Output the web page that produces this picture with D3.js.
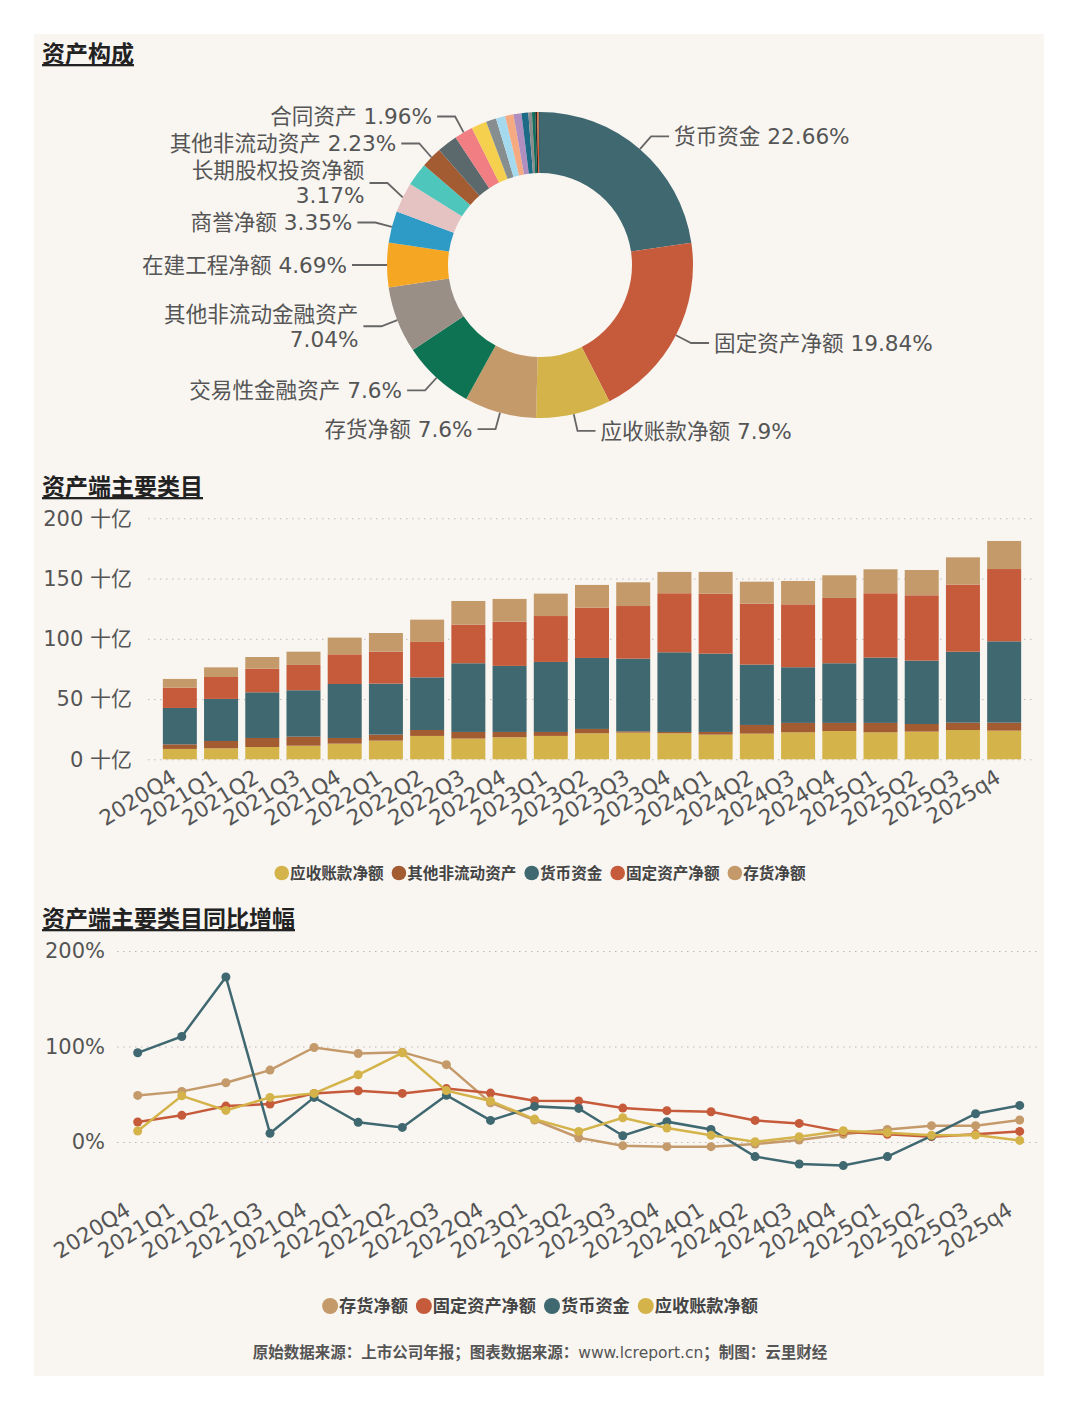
<!DOCTYPE html>
<html>
<head>
<meta charset="utf-8">
<script src="https://cdn.jsdelivr.net/npm/d3@7"></script>
<style>
  body { margin: 0; background: #fff; }
</style>
</head>
<body>
<script>
// ---- data ----
var pieNames = ["货币资金", "固定资产净额", "应收账款净额", "存货净额", "交易性金融资产", "其他非流动金融资产",
  "在建工程净额", "商誉净额", "长期股权投资净额", "无形资产", "其他非流动资产", "其他流动资产", "合同资产",
  "使用权资产", "预付款项", "递延所得税资产", "应收款项融资", "其他应收款", "长期待摊费用", "应收票据",
  "投资性房地产", "开发支出", "其他权益工具投资", "衍生金融资产"];
var pieValues = [22.66, 19.84, 7.9, 7.6, 7.6, 7.04, 4.69, 3.35, 3.17, 2.45, 2.23, 2.15, 1.96,
  1.62, 1.08, 0.98, 0.88, 0.84, 0.72, 0.38, 0.34, 0.2, 0.16, 0.14];
var pieColors = ["#3F6871", "#C65B3B", "#D4B44A", "#C49A6A", "#0E7352", "#9A8F86", "#F5A623", "#2E9AC6",
  "#E6C3C3", "#4FC6BB", "#A35B32", "#5B686C", "#F07E82", "#F4D04E", "#868E8F", "#A5DAEE", "#F5AA82",
  "#B18EC0", "#1E6B88", "#8C8C8C", "#0F6E5C", "#2A2A2A", "#E0602F", "#3A5E66"];
var pieLabeled = ["货币资金", "固定资产净额", "应收账款净额", "存货净额", "交易性金融资产", "其他非流动金融资产",
  "在建工程净额", "商誉净额", "长期股权投资净额", "其他非流动资产", "合同资产"];

var quarters = ["2020Q4", "2021Q1", "2021Q2", "2021Q3", "2021Q4", "2022Q1", "2022Q2", "2022Q3", "2022Q4",
  "2023Q1", "2023Q2", "2023Q3", "2023Q4", "2024Q1", "2024Q2", "2024Q3", "2024Q4", "2025Q1", "2025Q2",
  "2025Q3", "2025q4"];

// 十亿
var barSeries = ["应收账款净额", "其他非流动资产", "货币资金", "固定资产净额", "存货净额"];
var barColors = ["#D4B44A", "#A35B32", "#3F6870", "#C65B3B", "#C49A6A"];
var receivable = [8.6, 9.1, 10.2, 11.3, 13.0, 15.5, 19.4, 17.2, 18.3, 19.4, 21.6, 22.1, 21.6, 20.5, 21.3, 22.4, 23.5, 22.4, 23.0, 24.3, 23.8];
var otherNonCurrent = [3.8, 6.1, 7.5, 7.5, 4.7, 5.0, 4.9, 5.5, 4.4, 3.3, 3.6, 1.1, 1.1, 2.2, 7.2, 7.8, 6.7, 7.8, 6.3, 6.1, 6.6];
var cash = [30.2, 34.9, 37.9, 38.5, 44.8, 42.3, 43.7, 57.0, 54.8, 58.1, 58.9, 60.3, 66.1, 65.0, 50.1, 46.2, 49.5, 54.2, 52.6, 58.9, 67.5];
var fixedAssets = [16.9, 18.2, 19.6, 21.0, 24.6, 26.5, 29.4, 32.1, 36.7, 38.1, 41.8, 43.7, 49.0, 49.8, 50.6, 52.2, 54.2, 53.4, 54.2, 55.7, 60.0];
var inventory = [7.2, 8.0, 9.7, 11.0, 13.9, 15.5, 18.5, 19.6, 18.9, 18.6, 18.8, 19.7, 17.7, 18.0, 18.2, 19.4, 18.8, 19.9, 21.0, 22.6, 23.3];
var barTicks = [0, 50, 100, 150, 200];

// 同比 %
var lineSeries = ["存货净额", "固定资产净额", "货币资金", "应收账款净额"];
var lineColors = ["#C49A6A", "#C65B3B", "#3F6870", "#D4B44A"];
var inventoryYoY = [48.8, 53.0, 62.0, 75.3, 99.0, 92.7, 94.1, 81.0, 41.1, 23.0, 4.5, -3.8, -4.9, -4.9, -2.1, 2.1, 8.0, 13.2, 17.1, 17.1, 23.0];
var fixedYoY = [20.9, 27.9, 37.6, 39.7, 50.9, 53.7, 50.9, 55.9, 51.2, 43.2, 42.9, 35.5, 32.8, 31.7, 22.6, 19.5, 10.8, 8.0, 5.6, 8.0, 11.1];
var cashYoY = [93.4, 110.5, 172.8, 9.1, 46.7, 20.6, 15.3, 49.0, 22.6, 37.3, 35.2, 6.6, 21.3, 13.2, -15.3, -23.0, -24.7, -15.3, 6.3, 29.6, 38.3];
var receivableYoY = [11.5, 48.4, 33.1, 46.7, 50.9, 70.4, 93.4, 53.8, 42.9, 24.0, 11.1, 25.4, 14.6, 7.0, 0.3, 5.6, 11.8, 9.8, 7.0, 7.3, 1.7];
var lineTicks = [0, 100, 200];

var FONT = "'DejaVu Sans', 'Noto Sans CJK SC', sans-serif";
var CJK = "'Noto Sans CJK SC', sans-serif";

var svg = d3.select("body").append("svg")
    .attr("width", 1080)
    .attr("height", 1410);

svg.append("rect")
    .attr("x", 34).attr("y", 34)
    .attr("width", 1010).attr("height", 1342)
    .attr("fill", "#F9F6F2");

function title(txt, y) {
  svg.append("text")
      .attr("x", 42).attr("y", y)
      .style("font-family", CJK)
      .style("font-size", "23px")
      .style("font-weight", "bold")
      .style("text-decoration", "underline")
      .attr("fill", "#222")
      .text(txt);
}
title("资产构成", 62);
title("资产端主要类目", 495);
title("资产端主要类目同比增幅", 927);

function legend(names, colors, cy, fs, r, gap) {
  var g = svg.append("g");
  var x = 0;
  names.forEach(function(n, i) {
    var it = g.append("g").attr("transform", "translate(" + x + ",0)");
    it.append("circle").attr("cx", r).attr("cy", cy).attr("r", r).attr("fill", colors[i]);
    var t = it.append("text")
        .attr("x", 2 * r + 1).attr("y", cy).attr("dy", "0.36em")
        .style("font-family", CJK)
        .style("font-size", fs + "px")
        .style("font-weight", "bold")
        .attr("fill", "#444")
        .text(n);
    x += 2 * r + 1 + t.node().getComputedTextLength() + gap;
  });
  var total = x - gap;
  g.attr("transform", "translate(" + (540 - total / 2) + ",0)");
}

// ---- donut ----
var cx = 540, cy = 265, R = 153, R0 = 92, len1 = 17, len2 = 18;
var pie = d3.pie().sort(null).value(function(d) { return d; });
var arcs = pie(pieValues);
var arc = d3.arc().innerRadius(R0).outerRadius(R);

var donut = svg.append("g").attr("transform", "translate(" + cx + "," + cy + ")");
donut.selectAll("path")
    .data(arcs)
  .enter().append("path")
    .attr("d", arc)
    .attr("fill", function(d, i) { return pieColors[i]; });

var labels = [];
arcs.forEach(function(a, i) {
  if (pieLabeled.indexOf(pieNames[i]) < 0) return;
  var mid = (a.startAngle + a.endAngle) / 2;
  var s = Math.sin(mid), c = Math.cos(mid);
  labels.push({
    name: pieNames[i], pct: pieValues[i] + "%",
    side: s >= 0 ? 1 : -1,
    p1: [cx + R * s, cy - R * c],
    p2: [cx + (R + len1) * s, cy - (R + len1) * c],
    y: cy - (R + len1) * c
  });
});

var lblG = svg.append("g")
    .style("font-family", FONT)
    .style("font-size", "21.6px")
    .attr("fill", "#555");

var LH = 25;
labels.forEach(function(l) {
  var tx = l.p2[0] + l.side * (len2 + 5);
  var t = lblG.append("text").text(l.name + " " + l.pct);
  var w = t.node().getComputedTextLength();
  t.remove();
  l.lines = (l.side < 0 && tx - w < 128) || (l.side > 0 && tx + w > 1040) ?
      [l.name, l.pct] : [l.name + " " + l.pct];
  l.h = l.lines.length * LH;
});

// push overlapping labels upward, from the bottom of each side
[-1, 1].forEach(function(side) {
  var ls = labels.filter(function(l) { return l.side === side; })
      .sort(function(a, b) { return a.y - b.y; });
  for (var i = ls.length - 1; i > 0; i--) {
    var lo = ls[i], hi = ls[i - 1];
    var maxY = lo.y - lo.h / 2 - 2 - hi.h / 2;
    if (hi.y > maxY) hi.y = maxY;
  }
});

labels.forEach(function(l) {
  var p2 = [l.p2[0], l.y];
  var p3 = [l.p2[0] + l.side * len2, l.y];
  lblG.append("path")
      .attr("d", d3.line()([l.p1, p2, p3]))
      .attr("fill", "none")
      .attr("stroke", "#666")
      .attr("stroke-width", 1.8);
  var t = lblG.append("text")
      .attr("text-anchor", l.side > 0 ? "start" : "end");
  l.lines.forEach(function(s, k) {
    t.append("tspan")
        .attr("x", p3[0] + l.side * 5)
        .attr("y", l.y - (l.lines.length - 1) * LH / 2 + k * LH)
        .attr("dy", "0.36em")
        .text(s);
  });
});

// ---- stacked bars ----
var x = d3.scaleBand().domain(quarters).range([148, 1036]).paddingInner(0.175).paddingOuter(0.36);
var y = d3.scaleLinear().domain([0, 200]).range([759.3, 518.3]);

var barTable = quarters.map(function(q, i) {
  return { q: q, "应收账款净额": receivable[i], "其他非流动资产": otherNonCurrent[i], "货币资金": cash[i],
           "固定资产净额": fixedAssets[i], "存货净额": inventory[i] };
});
var stack = d3.stack().keys(barSeries)(barTable);

var yAxis = svg.append("g")
    .attr("transform", "translate(148,0)")
    .call(d3.axisLeft(y).tickValues(barTicks).tickFormat(function(d) { return d + " 十亿"; })
        .tickSize(-(1036 - 148)).tickPadding(16));
yAxis.select(".domain").remove();
yAxis.selectAll("line").attr("stroke", "#bbb").attr("stroke-dasharray", "1.5,4.5");
yAxis.selectAll("text").style("font-family", FONT).style("font-size", "21px").attr("fill", "#555");

svg.append("g").selectAll("g")
    .data(stack)
  .enter().append("g")
    .attr("fill", function(d, i) { return barColors[i]; })
  .selectAll("rect")
    .data(function(d) { return d; })
  .enter().append("rect")
    .attr("x", function(d) { return x(d.data.q); })
    .attr("width", x.bandwidth())
    .attr("y", function(d) { return y(d[1]); })
    .attr("height", function(d) { return y(d[0]) - y(d[1]); });

var xAxis = svg.append("g")
    .attr("transform", "translate(0,759.3)")
    .call(d3.axisBottom(x).tickSize(0));
xAxis.select(".domain").remove();
xAxis.selectAll("text")
    .attr("x", 0).attr("y", 0).attr("dy", null)
    .attr("transform", "translate(-2,22) rotate(-32)")
    .style("text-anchor", "end")
    .style("font-family", FONT)
    .style("font-size", "21.5px")
    .attr("fill", "#555");

legend(barSeries, barColors, 873, 15.6, 7.3, 8);

// ---- YoY lines ----
var xp = d3.scalePoint().domain(quarters).range([137.7, 1019.7]);
var yp = d3.scaleLinear().domain([0, 200]).range([1142, 951]);

var yAxis2 = svg.append("g")
    .attr("transform", "translate(117,0)")
    .call(d3.axisLeft(yp).tickValues(lineTicks).tickFormat(function(d) { return d + "%"; })
        .tickSize(-(1037 - 117)).tickPadding(12));
yAxis2.select(".domain").remove();
yAxis2.selectAll("line").attr("stroke", "#bbb").attr("stroke-dasharray", "1.5,4.5");
yAxis2.selectAll("text").style("font-family", FONT).style("font-size", "21px").attr("fill", "#555");

var xAxis2 = svg.append("g")
    .attr("transform", "translate(0,1190)")
    .call(d3.axisBottom(xp).tickSize(0));
xAxis2.select(".domain").remove();
xAxis2.selectAll("text")
    .attr("x", 0).attr("y", 0).attr("dy", null)
    .attr("transform", "translate(-6,24) rotate(-32)")
    .style("text-anchor", "end")
    .style("font-family", FONT)
    .style("font-size", "21.5px")
    .attr("fill", "#555");

var lineData = [inventoryYoY, fixedYoY, cashYoY, receivableYoY];
var valueline = d3.line()
    .x(function(d, i) { return xp(quarters[i]); })
    .y(function(d) { return yp(d); });

lineData.forEach(function(s, k) {
  svg.append("path")
      .datum(s)
      .attr("fill", "none")
      .attr("stroke", lineColors[k])
      .attr("stroke-width", 2.5)
      .attr("d", valueline);
  svg.append("g").selectAll("circle")
      .data(s)
    .enter().append("circle")
      .attr("cx", function(d, i) { return xp(quarters[i]); })
      .attr("cy", function(d) { return yp(d); })
      .attr("r", 4.5)
      .attr("fill", lineColors[k]);
});

legend(lineSeries, lineColors, 1306, 17.2, 8, 8);

// ---- footer ----
var foot = svg.append("text")
    .attr("x", 540).attr("y", 1352).attr("dy", "0.36em")
    .attr("text-anchor", "middle")
    .style("font-size", "15.5px")
    .attr("fill", "#555");
foot.append("tspan").style("font-family", CJK).style("font-weight", "bold").text("原始数据来源：上市公司年报；图表数据来源：");
foot.append("tspan").style("font-family", FONT).text("www.lcreport.cn");
foot.append("tspan").style("font-family", CJK).style("font-weight", "bold").text("；制图：云里财经");
</script>
</body>
</html>
